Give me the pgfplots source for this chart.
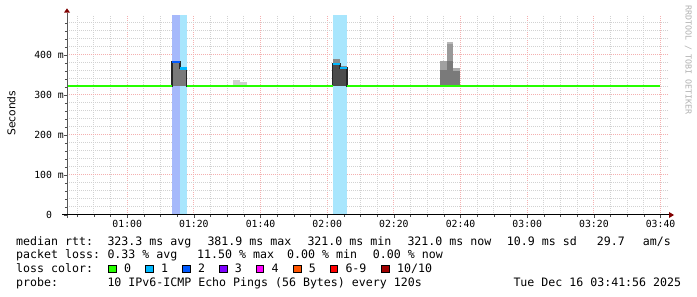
\documentclass[border=0pt]{standalone}
\usepackage{pgfplots}
\pgfplotsset{compat=1.18}
\usepackage{fontspec}
\setmainfont{DejaVu Sans}
\newfontfamily\mono{DejaVu Sans Mono}
\definecolor{lz}{HTML}{26FF00}
\definecolor{lo}{HTML}{00B8FF}
\definecolor{lt}{HTML}{0059FF}
\definecolor{lth}{HTML}{7E00FF}
\definecolor{lf}{HTML}{FF00FF}
\definecolor{lfi}{HTML}{FF5500}
\definecolor{ls}{HTML}{FF0000}
\definecolor{lten}{HTML}{A00000}
\definecolor{bandA}{HTML}{A6B9FB}
\definecolor{bandB}{HTML}{A8E6FD}
\definecolor{mgrid}{HTML}{F4B0B0}
\definecolor{ngrid}{HTML}{D2D2D2}
\newcommand\txt{\mono\fontsize{11.6}{13}\selectfont}
\frenchspacing
\begin{document}
\begin{tikzpicture}[x=1pt,y=1pt]
\useasboundingbox[fill=white] (0,0) rectangle (697,297);
\begin{axis}[
  at={(67pt,82pt)}, anchor=south west,
  scale only axis, width=601pt, height=200pt,
  xmin=41.93, xmax=222.23, ymin=0, ymax=500,
  axis line style={draw=none},
  xtick={60,80,...,220},
  xticklabels={01:00,01:20,01:40,02:00,02:20,02:40,03:00,03:20,03:40},
  minor xtick={45,50,55,65,70,75,85,90,95,105,110,115,125,130,135,145,150,155,165,170,175,185,190,195,205,210,215},
  ytick={0,100,200,300,400},
  yticklabels={0\phantom{~m},100~m,200~m,300~m,400~m},
  minor ytick={20,40,60,80,120,140,160,180,220,240,260,280,320,340,360,380,420,440,460,480},
  grid=both,
  major grid style={draw=mgrid, line width=1pt, dash pattern=on 1pt off 1pt},
  minor grid style={draw=ngrid, line width=1pt, dash pattern=on 1pt off 1pt},
  tick align=outside, xtick pos=bottom, ytick pos=left,
  major tick length=3pt, minor tick length=2pt,
  tick style={draw=black!70, line width=0.8pt},
  xticklabel style={font=\mono\fontsize{9.8}{11}\selectfont, anchor=base, inner sep=0pt, yshift=-10pt},
  yticklabel style={font=\mono\fontsize{9.8}{11}\selectfont, anchor=east, inner sep=0pt},
]
% loss bands
\addplot[fill=bandA, draw=none] coordinates {(73.5,0)(73.5,500)(75.8,500)(75.8,0)} -- cycle;
\addplot[fill=bandB, draw=none] coordinates {(75.8,0)(75.8,500)(77.8,500)(77.8,0)} -- cycle;
\addplot[fill=bandB, draw=none] coordinates {(121.7,0)(121.7,500)(126.0,500)(126.0,0)} -- cycle;
% smoke
\addplot[fill=black!52, draw=none] coordinates {(73.5,323)(73.5,382)(75.8,382)(75.8,323)} -- cycle;
\addplot[fill=black!52, draw=none] coordinates {(75.8,323)(75.8,366)(77.8,366)(77.8,323)} -- cycle;
\addplot[fill=black!19, draw=none] coordinates {(91.7,321)(91.7,337.5)(93.8,337.5)(93.8,321)} -- cycle;
\addplot[fill=black!19, draw=none] coordinates {(93.8,321)(93.8,332)(95.9,332)(95.9,321)} -- cycle;
\addplot[fill=black!46, draw=none] coordinates {(121.6,323)(121.6,389)(123.8,389)(123.8,323)} -- cycle;
\addplot[fill=black!70, draw=none] coordinates {(121.6,323)(121.6,377)(123.8,377)(123.8,323)} -- cycle;
\addplot[fill=black!46, draw=none] coordinates {(123.8,323)(123.8,373)(126.0,373)(126.0,323)} -- cycle;
\addplot[fill=black!70, draw=none] coordinates {(123.8,323)(123.8,367)(126.0,367)(126.0,323)} -- cycle;
\addplot[fill=black!37, draw=none] coordinates {(153.8,321)(153.8,386)(155.8,386)(155.8,321)} -- cycle;
\addplot[fill=black!52, draw=none] coordinates {(153.8,321)(153.8,362.5)(155.8,362.5)(155.8,321)} -- cycle;
\addplot[fill=black!28, draw=none] coordinates {(155.8,321)(155.8,432)(157.8,432)(157.8,321)} -- cycle;
\addplot[fill=black!40, draw=none] coordinates {(155.8,321)(155.8,427)(157.8,427)(157.8,321)} -- cycle;
\addplot[fill=black!52, draw=none] coordinates {(155.8,321)(155.8,384)(157.8,384)(157.8,321)} -- cycle;
\addplot[fill=black!33, draw=none] coordinates {(157.8,321)(157.8,367)(159.8,367)(159.8,321)} -- cycle;
\addplot[fill=black!52, draw=none] coordinates {(157.8,321)(157.8,361)(159.8,361)(159.8,321)} -- cycle;
% median step outline
\addplot[const plot, draw=black!85, line width=1.5pt] coordinates {(72.5,322)(73.5,382)(75.8,366)(77.8,322)(78.8,322)};
\addplot[const plot, draw=black!85, line width=1.5pt] coordinates {(120.6,322)(121.6,377)(123.8,367)(126.0,322)(127.0,322)};
% median, loss 0
\addplot[draw=lz, line width=2.2pt] coordinates {(41.93,322)(73.5,322)};
\addplot[draw=lz, line width=2.2pt] coordinates {(77.8,322)(121.6,322)};
\addplot[draw=lz, line width=2.2pt] coordinates {(126.0,322)(219.8,322)};
% median with loss
\addplot[draw=lt, line width=2.2pt] coordinates {(73.5,382)(75.8,382)};
\addplot[draw=lo, line width=2.2pt] coordinates {(75.8,366)(77.8,366)};
\addplot[draw=lo, line width=2.2pt] coordinates {(121.6,377)(123.8,377)};
\addplot[draw=lo, line width=2.2pt] coordinates {(123.8,367)(126.0,367)};
\end{axis}
% axis lines and arrows
\draw[black!65, line width=1pt] (67,79) -- (67,284.3);
\fill[lten!80!black] (64,284.3) -- (70,284.3) -- (67,288.7) -- cycle;
\draw[black, line width=1pt] (62,82) -- (669,82);
\fill[lten!80!black] (669,79) -- (669,85) -- (674,82) -- cycle;
% labels
\node[rotate=90, anchor=base, inner sep=0pt, font=\fontsize{10.7}{12}\selectfont] at (15.3,183.7) {Seconds};
\node[rotate=-90, inner sep=0pt, font=\mono\fontsize{8.3}{9}\selectfont, text=black!30] at (688.3,237) {RRDTOOL / TOBI OETIKER};
% legend lines
\begin{scope}[every node/.style={anchor=base west, inner sep=0pt, font=\txt}]
\node at (16,51.3) {median rtt:};
\node at (107.3,51.3) {323.3 ms avg};
\node at (207.3,51.3) {381.9 ms max};
\node at (307.3,51.3) {321.0 ms min};
\node at (407.3,51.3) {321.0 ms now};
\node at (506.7,51.3) {10.9 ms sd};
\node at (596.7,51.3) {29.7};
\node at (642.7,51.3) {am/s};
\node at (16,38) {packet loss:};
\node at (107.3,38) {0.33 \% avg};
\node at (197,38) {11.50 \% max};
\node at (287,38) {0.00 \% min};
\node at (372.7,38) {0.00 \% now};
\node at (16,24) {loss color:};
\node at (124,24) {0};
\node at (161,24) {1};
\node at (198,24) {2};
\node at (234.6,24) {3};
\node at (271.3,24) {4};
\node at (308.6,24) {5};
\node at (345.3,24) {6-9};
\node at (397,24) {10/10};
\node at (16,10.3) {probe:};
\node at (107.3,10.3) {10 IPv6-ICMP Echo Pings (56 Bytes) every 120s};
\node at (513.3,10.3) {Tue Dec 16 03:41:56 2025};
\end{scope}
\foreach \x/\c in {108.7/lz,145.7/lo,182.7/lt,219.3/lth,256/lf,293.3/lfi,330/ls,381.7/lten}
  \draw[fill=\c, draw=black, line width=0.8pt] (\x,24.4) rectangle ++(7.6,7.6);
\end{tikzpicture}
\end{document}
